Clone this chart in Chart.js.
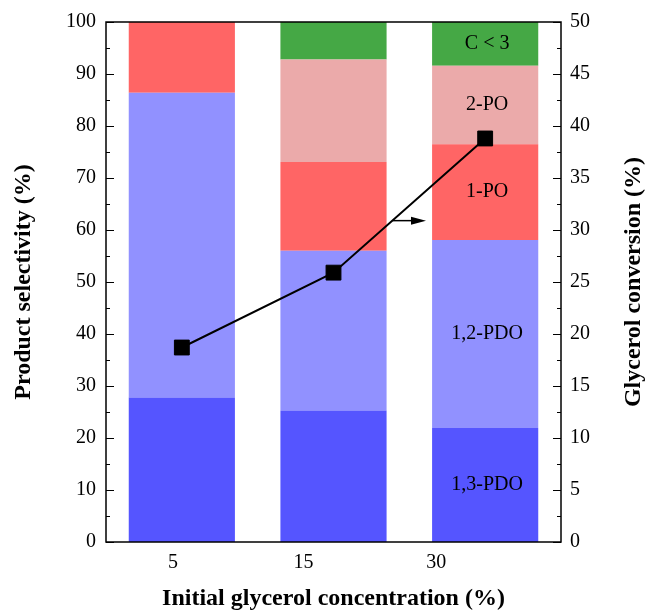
<!DOCTYPE html>
<html lang="en">
<head>
    <meta charset="UTF-8">
    <title>Product selectivity and glycerol conversion</title>
    <script src="https://cdn.jsdelivr.net/npm/chart.js"></script>
    <style>
        body { margin: 0; background: #fff; }
        #wrap { width: 646px; height: 613px; }
    </style>
</head>
<body>

    <div id="wrap"><canvas id="selChart" width="646" height="613"></canvas></div>

    <script>
        // data
        const concentrations = ['5', '15', '30'];
        const pdo13 = [27.8, 25.3, 21.9];
        const pdo12 = [58.6, 30.7, 36.2];
        const po1 = [13.6, 17.1, 18.4];
        const po2 = [0, 19.7, 15.1];
        const cLess3 = [0, 7.2, 8.4];
        const conversion = [18.7, 25.9, 38.8];

        const seriesNames = ['1,3-PDO', '1,2-PDO', '1-PO', '2-PO', 'C < 3'];
        const seriesColors = ['#5555ff', '#9191ff', '#ff6565', '#ebaaaa', '#45a845'];

        // the x tick labels sit a bit left of the bars in the original
        const xTickPos = [0.147, 0.434, 0.726];

        const serif = 'Liberation Serif, Times New Roman, serif';
        const tickFont = { family: serif, size: 20 };
        const titleFont = { family: serif, size: 24, weight: 'bold' };

        // frame, inward ticks, segment labels, arrow, right title
        const decorPlugin = {
            id: 'decor',
            afterDatasetsDraw(chart) {
                const ctx = chart.ctx;
                const a = chart.chartArea;
                const yL = chart.scales.y;
                const x = chart.scales.x;
                const yR = chart.scales.yR;

                ctx.save();
                ctx.strokeStyle = '#000';
                ctx.lineWidth = 1.5;
                ctx.strokeRect(a.left, a.top, a.right - a.left, a.bottom - a.top);

                ctx.lineWidth = 1.2;
                for (let v = 0; v <= 100; v += 5) {
                    const py = Math.round(yL.getPixelForValue(v)) + 0.5;
                    const len = v % 10 === 0 ? 8 : 4;
                    ctx.beginPath();
                    ctx.moveTo(a.left, py);
                    ctx.lineTo(a.left + len, py);
                    ctx.moveTo(a.right, py);
                    ctx.lineTo(a.right - len, py);
                    ctx.stroke();
                }

                // labels inside the last bar
                ctx.fillStyle = '#000';
                ctx.font = '20px ' + serif;
                ctx.textAlign = 'center';
                ctx.textBaseline = 'middle';
                chart.data.datasets.forEach((ds, i) => {
                    if (ds.type === 'line') return;
                    const bar = chart.getDatasetMeta(i).data[2];
                    ctx.fillText(ds.label, bar.x + 2, (bar.y + bar.base) / 2);
                });

                // arrow pointing to the right axis
                const ay = yR.getPixelForValue(30.9);
                const ax0 = x.getPixelForValue(1.39);
                const ax1 = x.getPixelForValue(1.61);
                ctx.lineWidth = 1.5;
                ctx.beginPath();
                ctx.moveTo(ax0, ay);
                ctx.lineTo(ax1 - 12, ay);
                ctx.stroke();
                ctx.beginPath();
                ctx.moveTo(ax1, ay);
                ctx.lineTo(ax1 - 15, ay - 4);
                ctx.lineTo(ax1 - 15, ay + 4);
                ctx.closePath();
                ctx.fill();

                // right axis title, reading bottom to top
                ctx.font = 'bold 24px ' + serif;
                ctx.translate(634, (a.top + a.bottom) / 2);
                ctx.rotate(-Math.PI / 2);
                ctx.fillText('Glycerol conversion (%)', 0, 0);
                ctx.restore();
            }
        };

        const barSets = [pdo13, pdo12, po1, po2, cLess3].map((vals, i) => ({
            type: 'bar',
            label: seriesNames[i],
            data: vals,
            backgroundColor: seriesColors[i],
            borderWidth: 0,
            xAxisID: 'x',
            yAxisID: 'y',
            stack: 'sel',
            order: 1,
            barPercentage: 0.7,
            categoryPercentage: 1
        }));

        const ctx = document.getElementById('selChart').getContext('2d');

        new Chart(ctx, {
            data: {
                labels: concentrations,
                datasets: [
                    ...barSets,
                    {
                        type: 'line',
                        label: 'Glycerol conversion',
                        data: conversion,
                        borderColor: '#000',
                        borderWidth: 2,
                        backgroundColor: '#000',
                        pointStyle: 'rect',
                        pointRadius: 10.5,
                        pointBorderWidth: 1,
                        xAxisID: 'x',
                        yAxisID: 'yR',
                        stack: 'conv',
                        order: 0,
                        tension: 0
                    }
                ]
            },
            options: {
                responsive: false,
                animation: false,
                layout: { padding: { top: 22, left: 0, right: 0, bottom: 0 } },
                plugins: {
                    legend: { display: false },
                    tooltip: { enabled: false }
                },
                scales: {
                    x: {
                        type: 'category',
                        stacked: true,
                        display: false
                    },
                    xt: {
                        type: 'linear',
                        position: 'bottom',
                        min: 0,
                        max: 1,
                        afterBuildTicks: axis => {
                            axis.ticks = xTickPos.map(v => ({ value: v }));
                        },
                        afterFit: axis => { axis.height = 71; },
                        grid: { display: false, drawTicks: false },
                        border: { display: false },
                        ticks: {
                            padding: 9,
                            color: '#000',
                            font: tickFont,
                            autoSkip: false,
                            maxRotation: 0,
                            callback: (v, i) => concentrations[i]
                        },
                        title: {
                            display: true,
                            text: 'Initial glycerol concentration (%)',
                            color: '#000',
                            font: titleFont,
                            padding: { top: 0, bottom: 0 }
                        }
                    },
                    y: {
                        position: 'left',
                        stacked: true,
                        min: 0,
                        max: 100,
                        afterFit: axis => { axis.width = 106; },
                        grid: { display: false, drawTicks: false },
                        border: { display: false },
                        ticks: {
                            stepSize: 10,
                            padding: 10,
                            color: '#000',
                            font: tickFont
                        },
                        title: {
                            display: true,
                            text: 'Product selectivity (%)',
                            color: '#000',
                            font: titleFont,
                            padding: { top: 9, bottom: 0 }
                        }
                    },
                    yR: {
                        position: 'right',
                        min: 0,
                        max: 50,
                        afterFit: axis => { axis.width = 85; },
                        grid: { display: false, drawTicks: false },
                        border: { display: false },
                        ticks: {
                            stepSize: 5,
                            padding: 9,
                            color: '#000',
                            font: tickFont
                        }
                    }
                }
            },
            plugins: [decorPlugin]
        });
    </script>

</body>
</html>
